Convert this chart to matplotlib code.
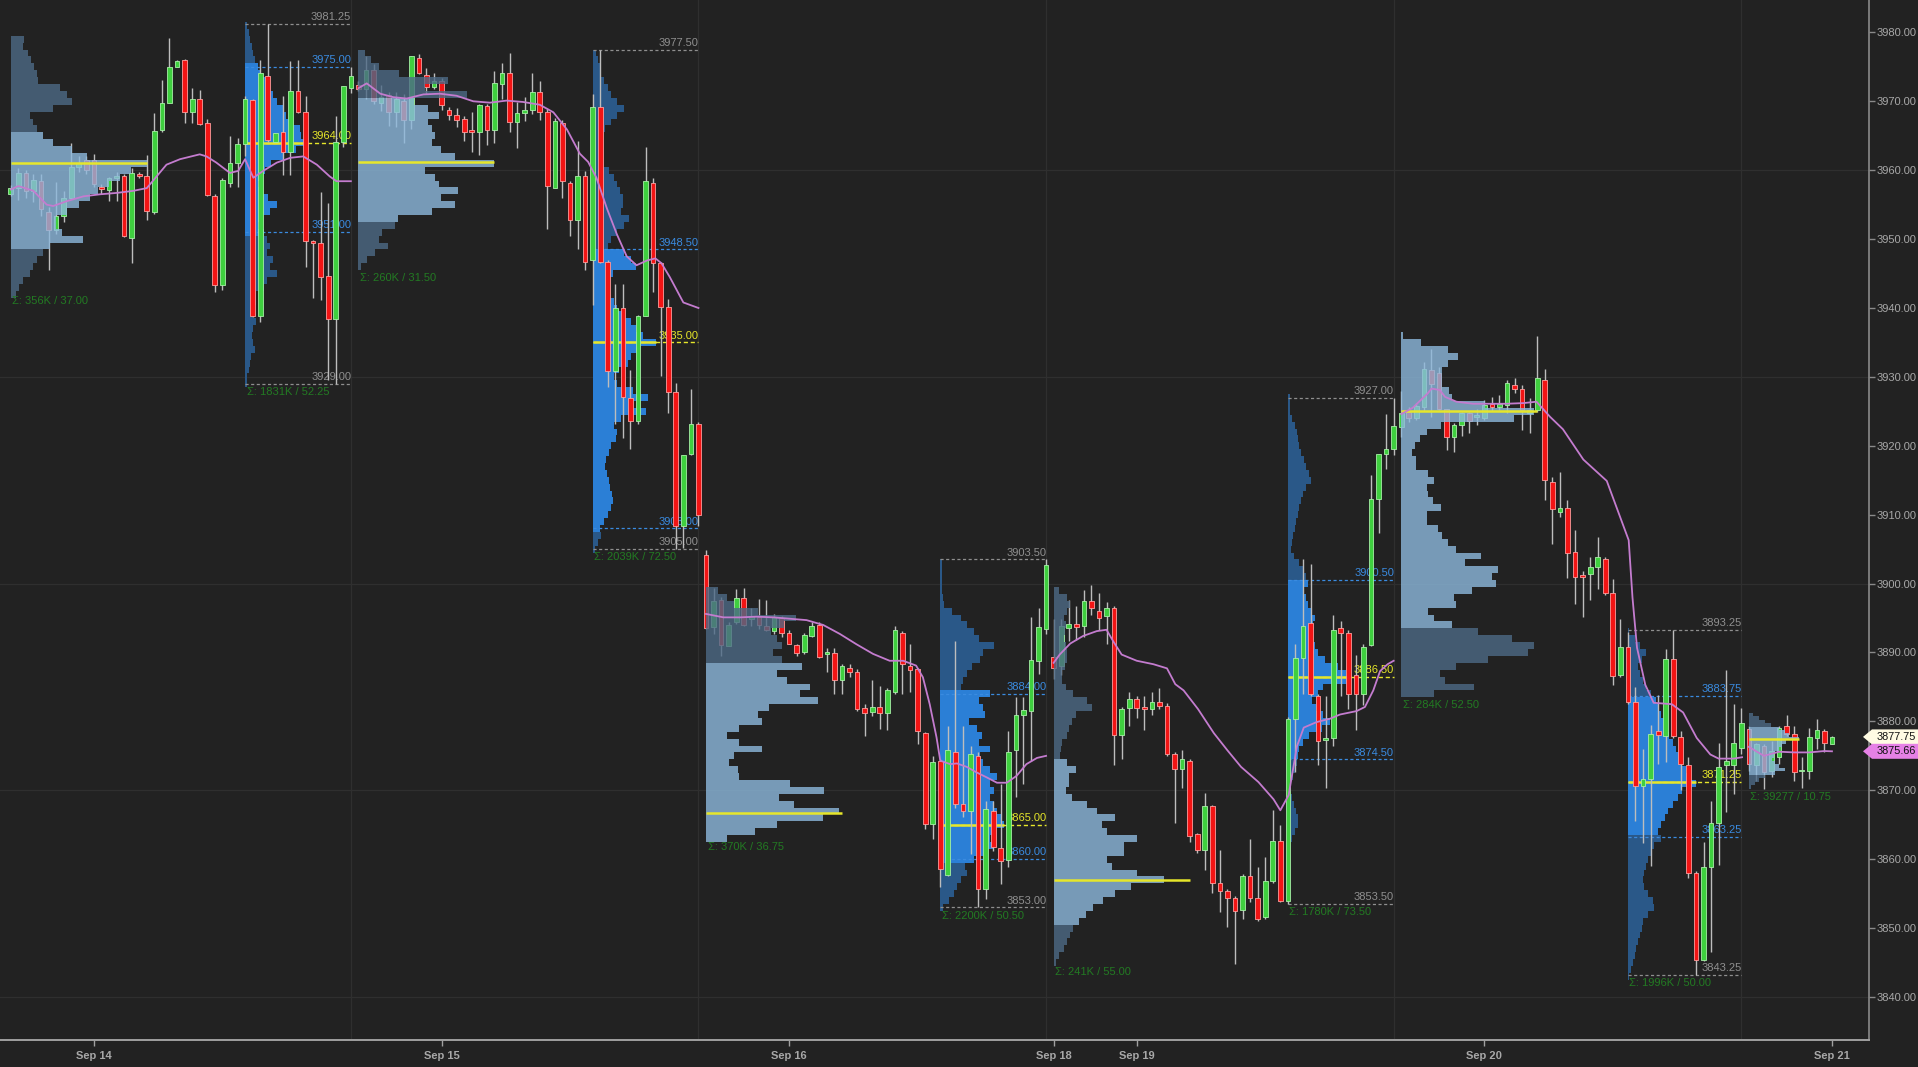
import matplotlib
matplotlib.use("Agg")
import matplotlib.pyplot as plt
import matplotlib.transforms as mtransforms
from matplotlib.patches import Rectangle, Polygon
from matplotlib.collections import PatchCollection, LineCollection

# ======================= DATA =======================
# 30-minute bars, x = bar index on a continuous trading-time axis (46 bars / session)
s1_open = [3956.6,3957.4,3959.6,3957.0,3958.5,3954.0,3951.3,3953.3,3956.0,3960.5,3961.5,3961.5,3957.6,3957.1,3958.8,
           3959.2,3950.1,3959.5,3959.2,3953.9,3965.8,3969.7,3975.0,3976.0,3968.4,3970.4,3966.9,3956.2,3943.3,3958.1,
           3961.1,3963.8,3970.2,3938.8,3973.7,3964.1,3965.6,3962.7,3971.5,3968.4,3949.7,3949.4,3944.6,3938.4,3964.1,3971.9]
s1_high = [3957.8,3960.3,3960.0,3959.5,3959.5,3954.7,3958.3,3957.0,3963.9,3962.0,3962.0,3962.3,3958.0,3959.0,3959.8,
           3959.5,3960.3,3959.7,3962.2,3968.3,3973.1,3979.25,3976.0,3976.2,3971.9,3971.6,3967.4,3956.6,3958.8,3964.9,
           3964.6,3970.7,3970.4,3976.0,3981.25,3965.4,3970.7,3975.8,3976.0,3970.7,3949.9,3956.9,3955.2,3967.8,3972.2,3975.0]
s1_low = [3956.2,3955.7,3956.0,3955.4,3953.3,3945.5,3950.8,3952.5,3955.8,3959.8,3959.5,3957.5,3956.5,3955.6,3955.6,
          3950.3,3946.5,3958.9,3952.8,3953.7,3965.6,3969.7,3975.0,3966.8,3966.8,3966.6,3956.2,3942.25,3942.6,3957.6,
          3957.6,3962.0,3938.7,3938.0,3964.1,3964.1,3959.3,3959.3,3968.3,3946.0,3941.4,3941.2,3929.5,3929.0,3963.4,3971.2]
s1_close = [3957.4,3959.6,3957.0,3958.6,3954.3,3951.3,3953.3,3956.0,3960.5,3961.0,3960.0,3958.0,3957.2,3958.8,3959.2,
            3950.4,3959.6,3959.1,3954.1,3965.7,3969.7,3975.0,3975.8,3968.5,3970.4,3966.7,3956.4,3943.3,3958.6,3961.1,
            3963.8,3970.3,3938.8,3974.1,3964.4,3965.4,3962.7,3971.5,3968.4,3949.7,3949.4,3944.5,3938.4,3964.1,3972.2,3973.7]

s2_open = [3972.3,3971.8,3974.5,3969.8,3970.9,3968.5,3970.1,3967.3,3976.3,3973.8,3972.1,3973.0,3968.8,3968.0,3967.5,
           3965.8,3965.5,3969.3,3965.9,3972.5,3974.1,3967.0,3968.3,3968.8,3971.3,3968.5,3957.4,3966.9,3958.2,3952.7,
           3959.2,3947.0,3969.1,3946.7,3930.8,3940.0,3927.0,3923.6,3938.8,3958.2,3946.5,3940.1,3927.8,3908.4,3918.8,3923.2]
s2_high = [3973.0,3976.5,3975.4,3972.4,3971.4,3971.4,3971.1,3976.6,3976.9,3974.9,3974.1,3973.4,3969.1,3969.0,3967.9,
           3968.4,3969.6,3969.6,3974.4,3975.6,3977.0,3969.9,3970.6,3974.1,3973.0,3968.9,3967.6,3967.3,3958.4,3964.2,
           3959.9,3971.1,3977.5,3947.0,3943.5,3943.5,3931.0,3939.0,3963.4,3958.9,3946.7,3941.3,3929.1,3918.6,3928.3,3923.5]
s2_low = [3971.5,3970.4,3969.6,3968.6,3966.4,3966.2,3963.9,3966.0,3973.9,3971.1,3971.8,3968.8,3967.3,3966.2,3964.2,
          3962.7,3962.2,3963.7,3963.9,3970.4,3965.6,3963.2,3967.1,3968.1,3967.3,3951.5,3957.4,3955.9,3950.5,3948.5,
          3945.5,3940.5,3946.5,3928.6,3923.1,3921.1,3919.6,3923.1,3938.8,3942.3,3930.1,3924.8,3905.0,3905.2,3918.6,3908.3]
s2_close = [3971.8,3974.5,3970.1,3970.6,3968.4,3970.4,3967.3,3976.5,3974.1,3972.1,3973.0,3969.4,3968.0,3967.3,3965.5,
            3965.5,3969.5,3965.9,3972.6,3974.1,3967.0,3968.3,3968.8,3971.3,3968.5,3957.7,3967.1,3958.5,3952.7,3959.2,
            3946.7,3969.1,3946.7,3930.8,3940.0,3927.1,3923.6,3938.8,3958.5,3946.5,3940.1,3927.8,3908.4,3918.6,3923.1,3910.0]

s3_open = [3904.2,3893.7,3897.6,3891.0,3894.4,3897.9,3894.9,3895.2,3893.9,3893.1,3895.0,3892.9,3891.1,3890.0,3892.4,
           3894.0,3889.8,3889.9,3886.0,3887.8,3887.1,3881.9,3881.4,3882.1,3881.2,3884.2,3892.9,3888.1,3887.6,3878.3,
           3865.1,3874.3,3857.7,3875.6,3868.0,3867.0,3875.0,3855.7,3867.0,3861.6,3859.9,3875.8,3881.0,3881.5,3888.7,3893.4]
s3_high = [3904.9,3899.4,3898.0,3894.4,3899.2,3899.4,3896.5,3897.8,3897.6,3895.6,3895.3,3893.2,3891.3,3892.9,3894.4,
           3894.4,3890.7,3890.7,3888.3,3888.3,3887.6,3882.5,3886.0,3885.2,3884.8,3893.9,3893.1,3891.2,3887.8,3878.4,
           3875.0,3874.5,3879.4,3891.7,3879.4,3876.5,3875.5,3868.5,3868.5,3870.9,3878.6,3883.5,3883.5,3895.1,3896.5,3903.5]
s3_low = [3893.4,3892.7,3889.5,3891.0,3894.1,3893.9,3893.9,3893.4,3893.1,3892.7,3892.2,3891.2,3889.5,3889.8,3892.2,
          3889.2,3887.1,3884.0,3884.0,3886.4,3881.5,3877.9,3880.8,3878.9,3878.7,3884.0,3884.0,3884.2,3876.7,3864.4,
          3863.0,3856.0,3857.6,3867.5,3866.1,3860.7,3853.0,3854.2,3861.2,3856.4,3858.8,3869.0,3870.9,3874.3,3886.9,3892.7]
s3_close = [3893.5,3897.5,3891.1,3894.0,3897.9,3894.0,3895.3,3894.0,3893.2,3895.1,3892.8,3891.3,3889.9,3892.6,3893.9,
            3889.3,3890.1,3886.0,3888.1,3887.1,3881.8,3881.2,3882.1,3881.2,3884.5,3893.2,3888.3,3887.4,3878.6,3865.1,
            3874.1,3858.6,3875.8,3868.0,3867.0,3875.3,3855.7,3867.3,3861.7,3859.8,3875.6,3881.0,3881.6,3888.9,3893.7,3902.7]

s4_open = [3889.4,3888.1,3893.6,3894.2,3893.8,3897.5,3896.0,3895.3,3896.5,3878.0,3882.0,3883.3,3882.1,3881.8,3882.8,
           3882.3,3875.3,3873.1,3874.2,3863.6,3861.4,3867.7,3856.5,3855.4,3854.3,3852.7,3857.6,3854.3,3851.6,3856.8,
           3862.7,3854.0,3880.4,3889.2,3894.3,3883.7,3877.3,3877.6,3893.5,3892.8,3886.7,3884.0,3891.1,3912.3,3918.8,3919.6]
s4_high = [3894.9,3894.9,3897.6,3896.8,3899.0,3899.75,3898.7,3897.3,3896.8,3882.1,3884.3,3883.7,3883.7,3884.3,3884.8,
           3882.6,3875.5,3875.8,3874.5,3863.8,3869.6,3867.9,3861.4,3855.7,3854.6,3857.9,3863.0,3858.9,3860.3,3867.1,
           3864.9,3880.7,3891.3,3903.6,3902.8,3884.0,3883.7,3895.4,3894.6,3893.2,3889.7,3891.3,3915.8,3918.8,3924.6,3927.0]
s4_low = [3886.2,3886.7,3891.6,3891.8,3892.2,3895.4,3893.2,3891.3,3873.6,3874.5,3879.4,3880.5,3878.8,3881.0,3881.8,
          3875.0,3865.2,3870.4,3862.5,3860.9,3858.4,3855.1,3852.4,3850.2,3844.75,3851.3,3853.8,3851.1,3851.3,3856.5,
          3853.8,3853.5,3872.6,3884.0,3883.7,3873.6,3870.4,3876.4,3883.7,3881.8,3878.8,3882.4,3891.0,3907.4,3916.7,3918.6]
s4_close = [3887.8,3893.8,3894.1,3893.7,3897.5,3896.4,3895.0,3896.5,3878.0,3881.8,3883.3,3881.9,3881.8,3882.8,3882.3,
            3875.3,3873.1,3874.5,3863.3,3861.4,3867.7,3856.5,3855.4,3854.3,3852.5,3857.6,3854.3,3851.3,3856.8,3862.7,
            3854.0,3880.4,3889.2,3893.9,3884.0,3877.2,3877.6,3893.2,3892.8,3884.0,3884.0,3890.8,3912.3,3918.8,3919.6,3922.9]

s5_open = [3922.8,3924.9,3924.1,3925.7,3931.0,3930.6,3925.3,3921.3,3923.0,3924.7,3924.2,3924.0,3926.1,3925.6,3925.9,
           3928.8,3928.3,3924.7,3925.2,3929.5,3914.8,3910.4,3910.9,3904.6,3901.3,3901.4,3902.4,3903.5,3898.6,3886.8,
           3890.8,3882.8,3870.6,3871.7,3878.6,3877.9,3889.0,3877.7,3873.7,3858.0,3845.4,3858.9,3865.2,3873.7,3873.7,3876.2]
s5_high = [3927.9,3925.7,3926.2,3932.2,3934.1,3931.5,3925.4,3923.3,3924.9,3924.9,3925.3,3926.6,3927.1,3927.4,3929.5,
           3929.8,3928.8,3926.9,3936.0,3931.2,3915.5,3916.2,3912.1,3907.8,3901.8,3903.8,3906.8,3903.9,3900.6,3894.9,
           3893.0,3885.0,3876.0,3879.5,3883.9,3890.5,3893.25,3878.6,3874.9,3858.3,3862.5,3868.5,3876.9,3887.5,3882.5,3882.0]
s5_low = [3921.3,3923.5,3923.7,3925.0,3924.2,3925.2,3919.4,3919.1,3921.4,3921.8,3923.0,3923.7,3925.0,3925.2,3924.7,
          3927.6,3922.3,3921.8,3924.9,3912.1,3905.8,3909.7,3900.8,3897.0,3895.2,3897.6,3899.2,3898.3,3885.3,3886.5,
          3882.5,3865.5,3862.4,3859.0,3873.8,3874.1,3877.6,3870.0,3857.3,3843.25,3845.2,3846.5,3859.1,3866.8,3869.5,3875.2]
s5_close = [3924.7,3924.0,3925.8,3931.1,3929.0,3925.4,3921.3,3923.0,3924.7,3923.6,3924.5,3925.9,3925.6,3926.1,3929.1,
            3928.3,3925.2,3925.2,3929.8,3915.0,3910.8,3910.9,3904.4,3901.0,3901.0,3902.4,3903.8,3898.6,3886.6,3890.8,
            3882.8,3870.6,3871.7,3878.2,3878.0,3889.0,3877.9,3873.8,3858.0,3845.4,3858.9,3865.2,3873.4,3874.2,3876.8,3879.8]

s6_open = [3878.9,3873.6,3876.5,3872.8,3874.8,3879.3,3878.1,3872.8,3872.8,3877.6,3878.6,3876.7]
s6_high = [3879.3,3876.9,3876.7,3877.2,3879.3,3881.0,3879.3,3874.8,3879.1,3880.3,3878.9,3877.9]
s6_low = [3872.8,3871.4,3870.25,3871.9,3873.8,3877.9,3871.4,3870.4,3871.6,3876.0,3875.6,3876.7]
s6_close = [3873.8,3876.7,3872.6,3875.7,3879.1,3878.1,3872.6,3873.0,3877.7,3878.7,3876.8,3877.75]

# moving-average line, one segment per session
ma_s1_x = [0,1,3,4.75,5.6,7.4,9.6,11.8,14,16.2,18,19.3,20.6,22.4,25,25.9,27.2,29,30.1,31,32.1,33.4,35.2,37,38.7,40.5,42.2,43.1,45]
ma_s1_y = [3957.2,3957.7,3957.0,3955.0,3954.8,3955.5,3956.2,3956.5,3956.7,3957.0,3957.4,3959.1,3960.8,3961.6,3962.3,3962.0,
           3961.1,3959.6,3959.9,3961.6,3958.9,3959.9,3961.1,3961.8,3962.0,3960.8,3959.1,3958.4,3958.4]
ma_s2_x = [46,47.1,48.9,50.6,52.4,54.6,56.8,59,61.2,63.4,65.6,67.8,70,71.8,73.6,75.3,76.4,77.5,78.9,80.2,81.5,82.8,84.2,85.3,86.1,87.2,89,91]
ma_s2_y = [3971.9,3972.6,3971.1,3970.6,3970.4,3971.0,3971.1,3970.8,3970.0,3969.8,3970.1,3969.9,3969.5,3968.4,3965.9,3962.4,
           3961.2,3958.9,3954.4,3950.7,3947.5,3946.2,3946.9,3947.2,3946.5,3944.5,3940.8,3940.0]
ma_s3_x = [92,94.3,96.5,98.7,100.9,103.1,105.3,107.5,109.7,111.9,114.1,116.3,118.1,119.8,120.7,121.6,122.5,123,124.3,125.2,
           126.5,127.8,129.1,130.5,131.8,133.1,134.4,135.8,137]
ma_s3_y = [3895.6,3895.1,3895.1,3895.2,3895.1,3894.9,3894.7,3894.0,3892.7,3891.2,3889.8,3888.8,3888.8,3888.1,3886.4,3882.5,
           3877.7,3874.3,3873.8,3873.9,3873.4,3872.6,3871.9,3871.1,3871.1,3872.1,3873.8,3874.7,3875.0]
ma_s4_x = [138,138.8,140.2,141.9,143.7,145,145.9,147,149,151.2,153,154.1,155.2,157.1,159.2,161,162.8,165.1,167.1,168,169.1,
           170.2,171.1,172.8,174.6,175.9,178.1,179.2,180.3,181.2,182.2,183]
ma_s4_y = [3888.5,3889.7,3891.3,3892.4,3893.1,3893.3,3891.6,3889.7,3888.8,3888.3,3887.7,3885.4,3884.5,3881.8,3878.3,3875.8,
           3873.4,3871.2,3868.7,3867.1,3869.3,3876.4,3879.1,3879.9,3880.4,3881.0,3881.5,3882.1,3884.5,3887.3,3888.3,3888.8]
ma_s5_x = [184,185.5,187.5,188.0,189.1,189.8,191.3,193.5,195.7,197.9,200.2,201.9,203.7,205.4,208.1,211.2,214.1,214.6,215.2,
           216.3,217.4,219.8,221.3,223.1,224.9,226.0,228.0,229.1]
ma_s5_y = [3924.6,3925.5,3927.6,3928.3,3928.1,3927.1,3926.4,3926.1,3926.1,3926.1,3926.2,3926.4,3924.2,3922.4,3918.0,3914.9,
           3906.3,3898.0,3890.7,3885.3,3882.7,3882.5,3881.3,3877.6,3875.2,3874.6,3874.6,3874.8]
ma_s6_x = [230,232,234,236,238,240,241]
ma_s6_y = [3876.3,3875.0,3875.6,3875.5,3875.5,3875.7,3875.66]

# volume profiles (ETH = overnight, RTH = day session); volumes in % of the POC level
prof_kind = ["ETH", "RTH", "ETH", "RTH", "ETH", "RTH", "ETH", "RTH", "ETH", "RTH", "ETH"]
prof_start = [0, 31, 46, 77, 92, 123, 138, 169, 184, 214, 230]
prof_end = [18, 45, 64, 91, 110, 137, 156, 183, 202, 229, 236.7]
prof_top = [3979, 3981, 3977, 3977, 3899, 3903, 3899, 3927, 3936, 3893, 3881.0]
prof_step = [1, 1, 1, 1, 1, 1, 1, 1, 1, 1, 0.5]
prof_high = [3979.25, 3981.25, 3977.00, 3977.50, 3899.75, 3903.50, 3899.75, 3927.00, 3936.00, 3893.25, 3881.00]
prof_low = [3942.25, 3929.00, 3945.50, 3905.00, 3863.00, 3853.00, 3844.75, 3853.50, 3883.50, 3843.25, 3870.25]
prof_vah = [3965.00, 3975.00, 3970.50, 3948.50, 3888.50, 3884.00, 3874.50, 3900.50, 3936.00, 3883.75, 3879.25]
prof_val = [3948.25, 3951.00, 3953.00, 3908.00, 3863.00, 3860.00, 3850.25, 3874.50, 3893.50, 3863.25, 3872.50]
prof_poc = [3961.00, 3964.00, 3961.25, 3935.00, 3866.75, 3865.00, 3857.00, 3886.50, 3925.00, 3871.25, 3877.50]
prof_total = ["356K", "1831K", "260K", "2039K", "370K", "2200K", "241K", "1780K", "284K", "1996K", "39277"]

eth1 = [10,9,13,15,17,19,20,36,41,45,31,14,16,19,24,31,45,56,100,88,80,72,64,58,50,41,33,33,38,53,29,24,19,16,14,9,6,4]
rth1 = [3,6,8,11,14,17,22,25,36,42,47,53,64,69,81,92,94,100,86,64,44,33,28,22,25,39,53,42,27,22,31,36,42,36,47,42,53,36,
        31,19,19,17,14,19,14,11,14,16,10,8,6,4,3]
eth2 = [5,9,15,30,66,49,80,41,51,59,51,54,56,54,61,71,100,49,56,59,73,61,71,54,29,27,17,15,22,12,6,2]
rth2 = [5,8,11,13,18,24,29,39,50,39,29,20,15,12,11,13,17,25,33,38,43,48,48,45,58,50,39,29,24,50,61,68,32,25,22,26,34,39,
        50,61,69,79,100,74,61,55,42,33,39,63,87,61,84,45,34,38,37,29,25,21,20,22,25,27,31,32,29,24,18,12,13,9,4]
eth3 = [9,16,21,39,68,59,49,53,57,50,57,72,53,61,78,71,84,47,39,42,25,16,25,42,21,17,24,25,63,89,55,66,100,88,53,37,16]
rth3 = [3,3,3,3,3,4,6,18,32,42,53,61,84,68,62,50,42,36,33,79,61,68,71,45,58,66,61,79,63,68,79,89,79,84,79,84,89,95,100,
        84,79,84,74,53,39,42,32,26,21,13,5]
eth4 = [5,12,15,12,9,11,10,9,11,12,12,10,8,8,11,18,30,35,20,17,14,12,8,7,6,12,20,14,14,11,17,30,39,56,44,48,76,64,64,48,
        53,76,100,70,56,45,36,29,23,18,15,12,9,5,2]
rth4 = [3,3,4,6,11,14,16,18,21,25,29,34,37,29,24,21,18,16,13,11,8,6,5,9,18,24,29,32,26,29,32,37,42,39,38,39,43,47,58,79,
        92,100,55,47,38,45,55,66,53,34,24,18,16,15,11,8,5,4,6,9,13,16,16,11,6,3,2,2,2,2,2,2,2,2]
eth5 = [1,15,35,43,35,31,31,31,36,38,63,100,85,30,19,14,10,8,11,11,20,25,19,20,24,30,19,19,28,31,35,41,60,48,73,68,71,53,
        40,41,20,25,38,58,83,100,95,65,41,29,33,55,25]
rth5 = [2,10,17,27,20,15,17,22,27,34,41,46,49,54,59,61,66,71,76,80,85,90,100,80,73,66,59,54,49,44,49,39,34,29,27,24,22,24,
        29,37,39,29,22,20,17,15,12,10,7,5,2]
eth6 = [8,20,32,45,60,72,81,100,75,67,60,53,50,47,53,60,73,53,33,20,12,5]
prof_hist = [eth1, rth1, eth2, rth2, eth3, rth3, eth4, rth4, eth5, rth5, eth6]

price_ticks = [3840, 3850, 3860, 3870, 3880, 3890, 3900, 3910, 3920, 3930, 3940, 3950, 3960, 3970, 3980]
grid_prices = [3840, 3870, 3900, 3930, 3960]
session_ends = [45, 91, 137, 183, 229]
day_ticks = [11, 57, 103, 138, 149, 195, 241]
day_labels = ["Sep 14", "Sep 15", "Sep 16", "Sep 18", "Sep 19", "Sep 20", "Sep 21"]
last_price = 3877.75
last_ma = 3875.66

# ======================= STYLE / LAYOUT =======================
W_PX, H_PX = 1918, 1067
BG = "#222222"
PROFILE_WIDTH = [18, 7.9, 18, 8.4, 17.6, 8.4, 14.6, 8.4, 17.6, 9.0, 6.6]   # POC bar length (bars)
ETH_VA, ETH_OUT = "#8db9dd", "#4d6a86"
RTH_VA, RTH_OUT = "#2b7fd6", "#2a5888"
UP_FACE, UP_EDGE = "#3fcf3f", "#a6f0a6"
DN_FACE, DN_EDGE = "#f21414", "#ff9c9c"
WICK = "#bdbdbd"
MA_COL = "#c47ccf"
YEL = "#e6e62a"
BLUE = "#3a8be0"
GREY = "#8f8f8f"
GREEN_TXT = "#237a23"
LBL_FONT = ["Liberation Sans", "DejaVu Sans"]

plt.rcParams["font.family"] = LBL_FONT

opens = s1_open + s2_open + s3_open + s4_open + s5_open + s6_open
highs = s1_high + s2_high + s3_high + s4_high + s5_high + s6_high
lows = s1_low + s2_low + s3_low + s4_low + s5_low + s6_low
closes = s1_close + s2_close + s3_close + s4_close + s5_close + s6_close

fig = plt.figure(figsize=(W_PX / 100, H_PX / 100), dpi=100, facecolor=BG)
ax_right_px, ax_bottom_px = 1869, 1040
ax = fig.add_axes([0, 1 - ax_bottom_px / H_PX, ax_right_px / W_PX, ax_bottom_px / H_PX])
ax.set_facecolor(BG)
ax.set_xlim(-1.43, 245.9)
ax.set_ylim(3833.76, 3984.70)

# grid
for gp in grid_prices:
    ax.axhline(gp, color="#2f2f2f", lw=0.9, zorder=0)
for sx in session_ends:
    ax.axvline(sx, color="#2f2f2f", lw=0.9, zorder=0)

# ---- volume profiles
for k, hist in enumerate(prof_hist):
    step = prof_step[k]
    eth = prof_kind[k] == "ETH"
    prices = [prof_top[k] - j * step for j in range(len(hist))]
    widths = [v / 100.0 * PROFILE_WIDTH[k] for v in hist]
    va_c, out_c = (ETH_VA, ETH_OUT) if eth else (RTH_VA, RTH_OUT)
    cols = [va_c if prof_val[k] - 1e-6 <= p <= prof_vah[k] + 1e-6 else out_c for p in prices]
    ax.barh(prices, widths, height=step, left=prof_start[k], color=cols, linewidth=0,
            alpha=0.80 if eth else 1.0, zorder=4 if eth else 1)
    x0, x1 = prof_start[k], prof_end[k]
    if eth:
        ax.plot([x0, x1], [prof_poc[k]] * 2, color=YEL, lw=1.8, zorder=4.6, solid_capstyle="butt")
    else:
        ax.plot([x0, x0 + PROFILE_WIDTH[k]], [prof_poc[k]] * 2, color=YEL, lw=1.8, zorder=2, solid_capstyle="butt")
        ax.plot([x0, x1], [prof_poc[k]] * 2, color=YEL, lw=1.0, ls=(0, (3, 2)), zorder=2)
        for val, col in ((prof_high[k], GREY), (prof_vah[k], BLUE), (prof_val[k], BLUE), (prof_low[k], GREY)):
            ax.plot([x0, x1], [val, val], color=col, lw=0.9, ls=(0, (2.5, 2)), zorder=2)
        for val, col in ((prof_high[k], GREY), (prof_vah[k], BLUE), (prof_poc[k], YEL),
                         (prof_val[k], BLUE), (prof_low[k], GREY)):
            ax.text(x1 + 0.05, val + 0.25, f"{val:.2f}", color=col, fontsize=8, ha="right", va="bottom", zorder=2.5)
    rng = prof_high[k] - prof_low[k]
    ax.text(x0 + 0.2, prof_low[k] - 0.45, f"\u03a3: {prof_total[k]} / {rng:.2f}", color=GREEN_TXT,
            fontsize=8, ha="left", va="top", zorder=6)

# ---- candles
W = 0.62
wicks, ups, dns = [], [], []
for i, (o, h, l, c) in enumerate(zip(opens, highs, lows, closes)):
    wicks.append([(i, l), (i, h)])
    b = min(o, c)
    hgt = max(abs(c - o), 0.2)
    (ups if c >= o else dns).append(Rectangle((i - W / 2, b), W, hgt))
ax.add_collection(LineCollection(wicks, colors=WICK, linewidths=1.0, zorder=3))
ax.add_collection(PatchCollection(ups, facecolor=UP_FACE, edgecolor=UP_EDGE, linewidth=0.6, zorder=3.1))
ax.add_collection(PatchCollection(dns, facecolor=DN_FACE, edgecolor=DN_EDGE, linewidth=0.6, zorder=3.1))

# ---- moving average
for mx, my in ((ma_s1_x, ma_s1_y), (ma_s2_x, ma_s2_y), (ma_s3_x, ma_s3_y),
               (ma_s4_x, ma_s4_y), (ma_s5_x, ma_s5_y), (ma_s6_x, ma_s6_y)):
    ax.plot(mx, my, color=MA_COL, lw=1.3, zorder=5)

# ---- axes styling
for s in ("left", "top"):
    ax.spines[s].set_visible(False)
ax.spines["right"].set_color("#8a8a8a")
ax.spines["bottom"].set_color("#a0a0a0")
ax.spines["right"].set_linewidth(1.2)
ax.spines["bottom"].set_linewidth(1.4)
ax.yaxis.tick_right()
ax.set_yticks(price_ticks)
ax.set_yticklabels([f"{p:.2f}" for p in price_ticks])
ax.tick_params(axis="y", colors="#8a8a8a", labelcolor="#a8a8a8", labelsize=8, length=4, pad=1.5, width=1)
ax.set_xticks(day_ticks)
ax.set_xticklabels(day_labels)
ax.tick_params(axis="x", colors="#a0a0a0", labelcolor="#a8a8a8", labelsize=8, length=4, pad=4, width=1)
for t in ax.get_xticklabels():
    t.set_family(["Liberation Sans Narrow", "Liberation Sans", "DejaVu Sans"])
    t.set_fontweight("bold")

# ---- last price / MA tags at the right
trans = mtransforms.blended_transform_factory(fig.transFigure, ax.transData)
hh = 7.5 / 6.89
for price, face in ((last_price, "#fffbe3"), (last_ma, "#e681e6")):
    xa, xb, xc = 1863 / W_PX, 1872 / W_PX, 1.0
    poly = Polygon([(xa, price), (xb, price + hh), (xc, price + hh), (xc, price - hh), (xb, price - hh)],
                   closed=True, transform=trans, facecolor=face, edgecolor="none", clip_on=False, zorder=10)
    ax.add_patch(poly)
    ax.text(1877 / W_PX, price, f"{price:.2f}", transform=trans, fontsize=7.8, color="#111111",
            ha="left", va="center", clip_on=False, zorder=11)

fig.savefig("out.png", dpi=100, facecolor=BG)
